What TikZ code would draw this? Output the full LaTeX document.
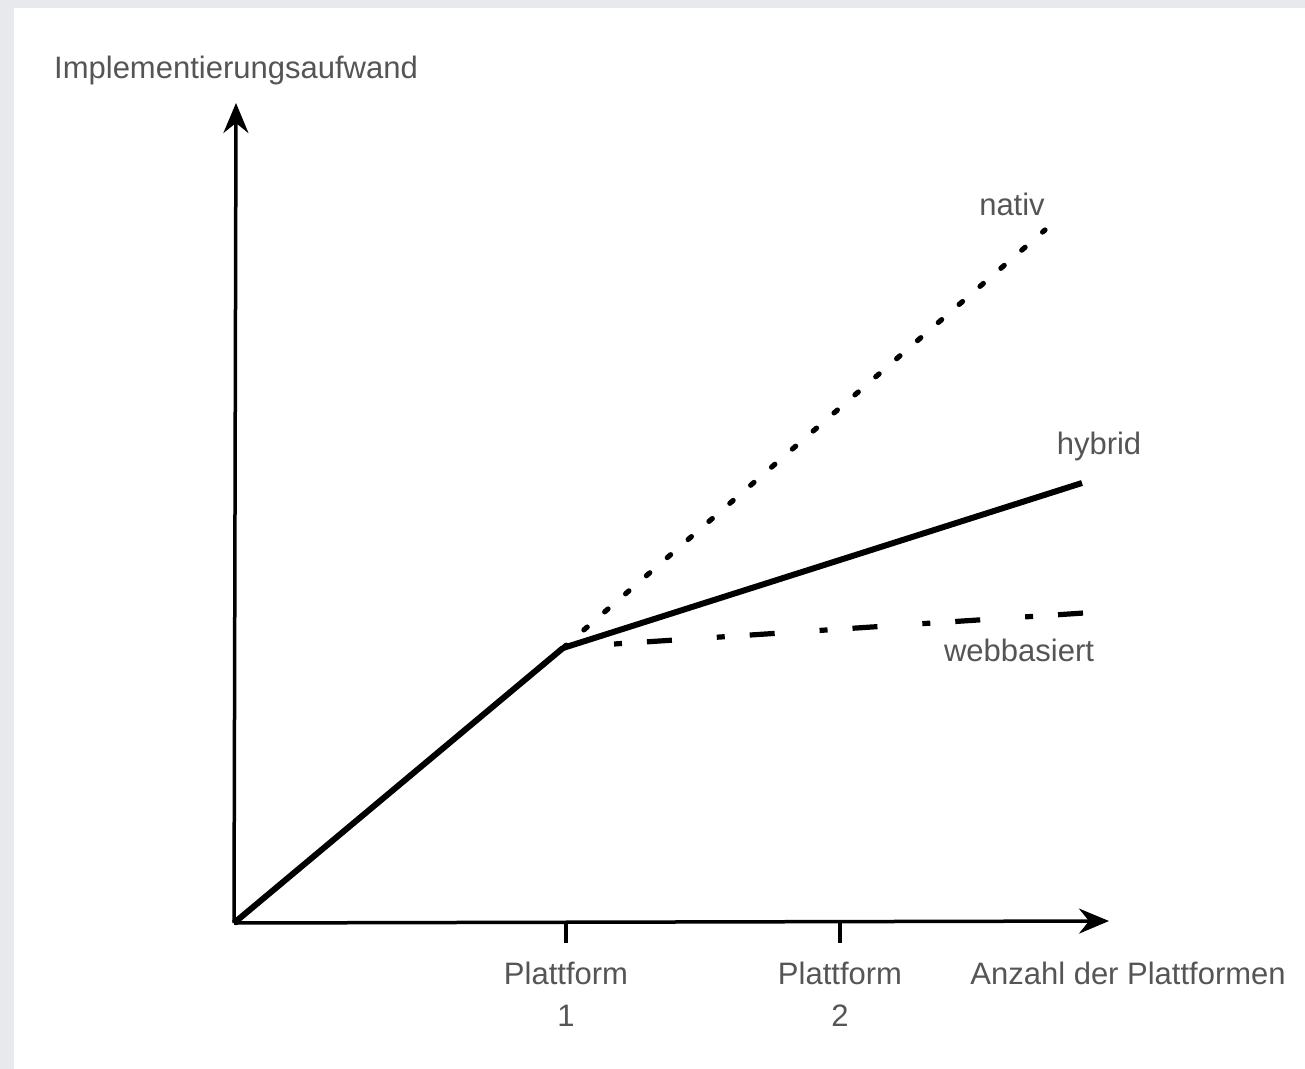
\documentclass[tikz,border=0pt]{standalone}
\usepackage{fontspec}
\setmainfont{Liberation Sans}
\usepackage{tikz}
\usetikzlibrary{positioning, arrows.meta,
calc
}
\definecolor{labelgray}{RGB}{85,85,85}
\definecolor{framegray}{RGB}{232,233,236}
\tikzset{%
  axis/.style={draw, line width=1.75pt,
    -{Stealth[length=15pt, width=12.5pt, inset=5pt]}}, % the two axes
  tick/.style={draw, line width=1.75pt},
  curve/.style={draw, line width=3pt}, % solid effort line (hybrid)
  nativline/.style={draw, line width=2.6pt, line cap=round,
    dash pattern=on 2.2pt off 11.6pt},
  webline/.style={draw, line width=2.6pt,
    dash pattern=on 4pt off 12.5pt on 12.5pt off 22.5pt},
  lbl/.style={text=labelgray, inner sep=0pt, align=center,
    font=\fontsize{15.5}{21}\selectfont}
}

\begin{document}
\begin{tikzpicture}[x=0.5pt, y=-0.5pt]
    % frame of the screenshot
    \fill[framegray] (0,0) rectangle (1305,1069);
    \fill[white] (14,8) rectangle (1305,1069);

    \coordinate (O) at (234,923);
    \coordinate (ytop) at (236,103);
    \coordinate (xend) at (1109,921);
    \coordinate (knee) at (563,648);
    \coordinate (nend) at (1045,230);
    \coordinate (hend) at (1082,483);
    \coordinate (wbeg) at (614,644);
    \coordinate (wend) at (1084,613);
    \coordinate (t1) at (566,922);
    \coordinate (t1b) at (566,943);
    \coordinate (t2) at (840,921);
    \coordinate (t2b) at (840,943);

    \draw[axis] (O) -- (ytop);
    \draw[axis] (O) -- (xend);
    \draw[tick] (t1) -- (t1b);
    \draw[tick] (t2) -- (t2b);

    \node[lbl, above=9pt of ytop] (yl) {Implementierungsaufwand};
    \node[lbl, below=9.5pt of t1b] (p1) {Plattform\\1};
    \node[lbl, below=9.5pt of t2b] (p2) {Plattform\\2};
    \node[lbl, anchor=north west] (xl) at (970,962) {Anzahl der Plattformen};

    \draw[nativline] (knee) -- (nend);
    \draw[webline] (wbeg) -- (wend);
    \draw[curve] (O) -- (knee);
    \draw[curve] (knee) -- (hend);

    \node[lbl] (nativ) at (1012,204) {nativ};
    \node[lbl] (hybrid) at (1099,446) {hybrid};
    \node[lbl] (web) at (1019,650) {webbasiert};
\end{tikzpicture}
\end{document}
